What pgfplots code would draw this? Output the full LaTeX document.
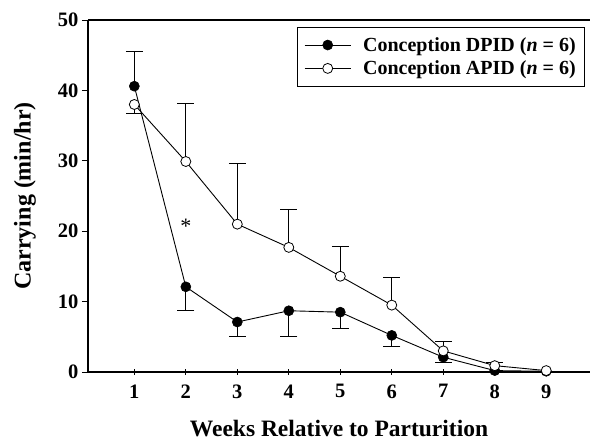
\documentclass[border=0pt]{standalone}
\usepackage{fontspec}
\setmainfont{Liberation Serif}
\usepackage{pgfplots}
\pgfplotsset{compat=1.18}

\begin{document}
\begin{tikzpicture}
\useasboundingbox (-88pt,-69pt) rectangle (504pt,372pt);
\begin{axis}[
  at={(0pt,0pt)}, anchor=south west,
  scale only axis, width=502pt, height=352pt,
  xmin=0.1, xmax=9.85, ymin=0, ymax=50,
  axis x line*=box, axis y line*=left,
  axis line style={line width=1.1pt},
  xtick={1,...,9}, ytick={0,10,...,50},
  xtick pos=bottom,
  tick align=outside, major tick length=6pt,
  tick style={line width=0.9pt, black},
  x tick style={yshift=3pt},
  /pgf/number format/assume math mode=true,
  tick label style={font=\fontsize{20.5}{22}\selectfont\bfseries},
  xticklabel style={yshift=-3pt},
  xlabel={Weeks Relative to Parturition},
  ylabel={Carrying (min/hr)},
  every axis x label/.style={at={(axis description cs:0.5,-0.162)}, anchor=center,
    font=\fontsize{23.5}{26}\selectfont\bfseries},
  every axis y label/.style={at={(axis description cs:-0.1255,0.5)}, rotate=90, anchor=center,
    font=\fontsize{24}{26}\selectfont\bfseries},
  legend style={at={(rel axis cs:0.99,0.98)}, anchor=north east,
    draw=black, line width=0.6pt, font=\fontsize{20}{22}\selectfont\bfseries,
    inner xsep=7pt, inner ysep=8pt, row sep=4pt, cells={anchor=west}},
  legend image code/.code={\draw[mark repeat=2,mark phase=2,#1]
     plot coordinates {(0pt,0pt) (23pt,0pt) (46pt,0pt)};
     \path (56pt,0pt);},
  clip=false,
]
% error bars, DPID (downward, week 1 upward)
\addplot[draw=none, forget plot, error bars/.cd, y dir=minus, y explicit,
  error bar style={black, line width=0.8pt},
  error mark options={black, rotate=90, mark size=8.5pt, line width=0.8pt}]
  coordinates {
  (2,12.1) +- (0,3.35)
  (3,7.1) +- (0,2.05)
  (4,8.7) +- (0,3.7)
  (5,8.5) +- (0,2.3)
  (6,5.2) +- (0,1.5)
  (7,2.1) +- (0,0.8)
};
\addplot[draw=none, forget plot, error bars/.cd, y dir=plus, y explicit,
  error bar style={black, line width=0.8pt},
  error mark options={black, rotate=90, mark size=8.5pt, line width=0.8pt}]
  coordinates {
  (1,40.6) +- (0,4.9)
};
% error bars, APID (upward, week 1 downward)
\addplot[draw=none, forget plot, error bars/.cd, y dir=plus, y explicit,
  error bar style={black, line width=0.8pt},
  error mark options={black, rotate=90, mark size=8.5pt, line width=0.8pt}]
  coordinates {
  (2,29.9) +- (0,8.3)
  (3,21.0) +- (0,8.6)
  (4,17.7) +- (0,5.35)
  (5,13.6) +- (0,4.3)
  (6,9.5) +- (0,3.9)
  (7,3.0) +- (0,1.35)
  (8,0.9) +- (0,0.4)
};
\addplot[draw=none, forget plot, error bars/.cd, y dir=minus, y explicit,
  error bar style={black, line width=0.8pt},
  error mark options={black, rotate=90, mark size=8.5pt, line width=0.8pt}]
  coordinates {
  (1,38.0) +- (0,1.2)
};
\addplot[black, line width=0.9pt, mark=*, mark size=5pt,
  mark options={fill=black, line width=0.6pt}] coordinates {
  (1,40.6) (2,12.1) (3,7.1) (4,8.7) (5,8.5) (6,5.2) (7,2.1) (8,0.2) (9,0.1)
};
\addlegendentry{Conception DPID (\textit{n} = 6)}
\addplot[black, line width=0.9pt, mark=*, mark size=5pt,
  mark options={fill=white, line width=0.8pt}] coordinates {
  (1,38.0) (2,29.9) (3,21.0) (4,17.7) (5,13.6) (6,9.5) (7,3.0) (8,0.9) (9,0.2)
};
\addlegendentry{Conception APID (\textit{n} = 6)}
\node[font=\fontsize{22}{24}\selectfont, anchor=center] at (axis cs:2.0,20.7) {*};
\end{axis}
\end{tikzpicture}
\end{document}
